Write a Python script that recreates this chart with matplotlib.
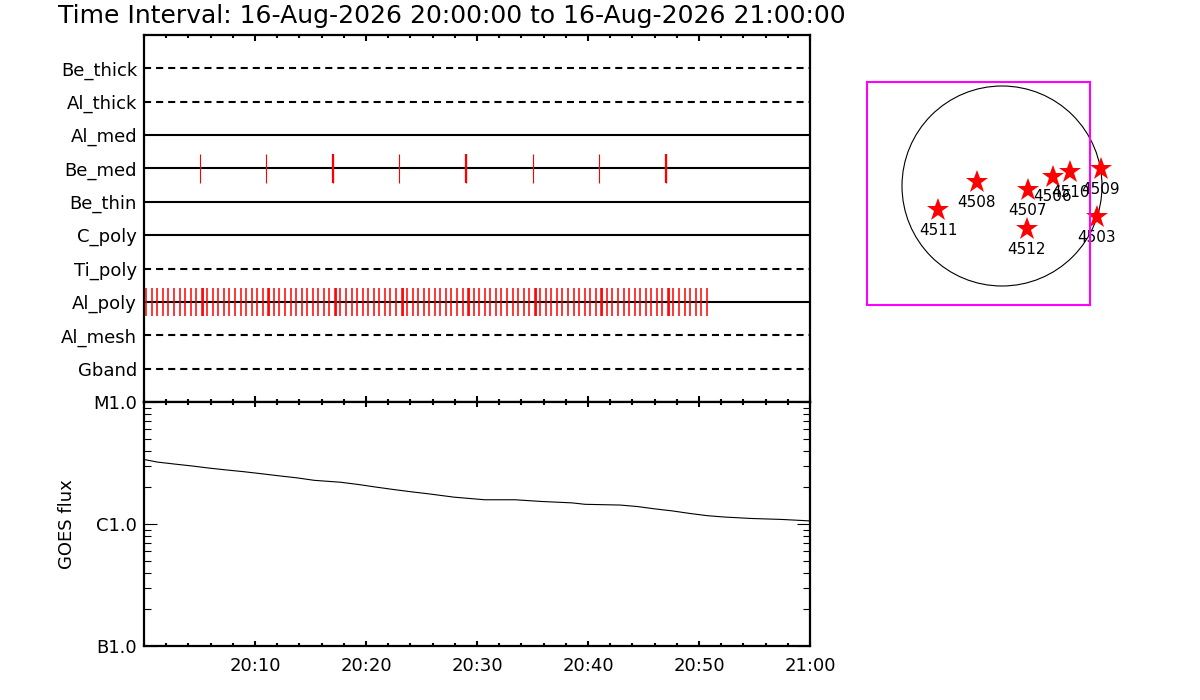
import matplotlib
matplotlib.use('Agg')
import matplotlib.pyplot as plt
from matplotlib.ticker import MultipleLocator, NullFormatter, FixedLocator
from matplotlib.patches import Circle

# filter channels, top to bottom
channels = ['Be_thick', 'Al_thick', 'Al_med', 'Be_med', 'Be_thin',
            'C_poly', 'Ti_poly', 'Al_poly', 'Al_mesh', 'Gband']
dashed = ['Be_thick', 'Al_thick', 'Ti_poly', 'Al_mesh', 'Gband']

# exposure times, minutes after 20:00
be_med_times = [5.0, 11.0, 17.0, 23.0, 29.0, 35.0, 41.0, 47.0]
be_med_long = [17.0, 29.0, 47.0]
al_poly_times = [
    0.2, 0.7, 1.2, 1.7, 2.2, 2.7, 3.2, 3.7, 4.2, 4.7,
    5.2, 5.7, 6.2, 6.7, 7.2, 7.7, 8.2, 8.7, 9.2, 9.7,
    10.2, 10.7, 11.2, 11.7, 12.2, 12.7, 13.2, 13.7, 14.2, 14.7,
    15.2, 15.7, 16.2, 16.7, 17.2, 17.7, 18.2, 18.7, 19.2, 19.7,
    20.2, 20.7, 21.2, 21.7, 22.2, 22.7, 23.2, 23.7, 24.2, 24.7,
    25.2, 25.7, 26.2, 26.7, 27.2, 27.7, 28.2, 28.7, 29.2, 29.7,
    30.2, 30.7, 31.2, 31.7, 32.2, 32.7, 33.2, 33.7, 34.2, 34.7,
    35.2, 35.7, 36.2, 36.7, 37.2, 37.7, 38.2, 38.7, 39.2, 39.7,
    40.2, 40.7, 41.2, 41.7, 42.2, 42.7, 43.2, 43.7, 44.2, 44.7,
    45.2, 45.7, 46.2, 46.7, 47.2, 47.7, 48.2, 48.7, 49.2, 49.7,
    50.2, 50.7]
al_poly_extra = [5.3, 11.3, 17.3, 23.3, 29.3, 35.3, 41.3, 47.3]

# GOES flux (W/m^2)
goes_min = [0.0, 1.18, 2.75, 4.33, 5.90, 7.48, 9.05, 10.62, 12.20, 13.77,
            15.34, 17.70, 19.28, 20.85, 22.43, 24.0, 25.57, 27.93, 30.69,
            33.44, 35.80, 38.56, 39.74, 42.89, 44.46, 46.03, 47.61, 49.18,
            50.75, 52.33, 54.69, 57.44, 60.0]
goes_flux = [3.38e-6, 3.22e-6, 3.10e-6, 2.99e-6, 2.87e-6, 2.77e-6, 2.68e-6,
             2.58e-6, 2.48e-6, 2.39e-6, 2.28e-6, 2.20e-6, 2.11e-6, 2.01e-6,
             1.92e-6, 1.84e-6, 1.77e-6, 1.66e-6, 1.58e-6, 1.58e-6, 1.53e-6,
             1.49e-6, 1.45e-6, 1.43e-6, 1.39e-6, 1.33e-6, 1.28e-6, 1.22e-6,
             1.17e-6, 1.14e-6, 1.11e-6, 1.09e-6, 1.06e-6]
goes_ticks = [1e-7, 1e-6, 1e-5]
goes_labels = ['B1.0', 'C1.0', 'M1.0']

time_ticks = [10, 20, 30, 40, 50, 60]
time_labels = ['20:10', '20:20', '20:30', '20:40', '20:50', '21:00']

# active regions (arcsec from disk centre)
ar_num = ['4511', '4508', '4507', '4506', '4510', '4509', '4503', '4512']
ar_x = [-608, -240, 245, 481, 649, 940, 899, 234]
ar_y = [-228, 38, -38, 89, 130, 158, -297, -408]
r_sun = 950

title = 'Time Interval: 16-Aug-2026 20:00:00 to 16-Aug-2026 21:00:00'

fs = 13
fig = plt.figure(figsize=(12, 7), dpi=100)
ax1 = fig.add_axes([144/1200, 1 - 402/700, 666/1200, 367/700])
ax2 = fig.add_axes([144/1200, 1 - 646/700, 666/1200, 244/700])
ax3 = fig.add_axes([867/1200, 1 - 305/700, 223/1200, 223/700])

fig.text(58/1200, 1 - 16/700, title, fontsize=18, ha='left', va='center')

# --- channel panel
rows = list(range(len(channels), 0, -1))
for name, y in zip(channels, rows):
    ls = (0, (3.4, 2.4)) if name in dashed else '-'
    ax1.axhline(y, color='black', lw=1.5, ls=ls, zorder=1)
row = dict(zip(channels, rows))
ax1.eventplot(be_med_times, lineoffsets=row['Be_med'], linelengths=0.88,
              colors='red', linewidths=0.8, zorder=2)
ax1.eventplot(be_med_long, lineoffsets=row['Be_med'], linelengths=0.88,
              colors='red', linewidths=1.6, zorder=2)
ax1.eventplot(al_poly_times, lineoffsets=row['Al_poly'], linelengths=0.84,
              colors='red', linewidths=1.1, zorder=2)
ax1.eventplot(al_poly_extra, lineoffsets=row['Al_poly'], linelengths=0.84,
              colors='red', linewidths=1.3, zorder=2)
ax1.set_ylim(0, len(channels) + 1)
ax1.set_yticks(rows)
ax1.set_yticklabels(channels, fontsize=fs)
ax1.tick_params(axis='y', length=0, pad=5)

for ax in (ax1, ax2):
    ax.set_xlim(0, 60)
    ax.xaxis.set_major_locator(FixedLocator(time_ticks))
    ax.xaxis.set_minor_locator(MultipleLocator(2))
    for s in ax.spines.values():
        s.set_linewidth(1.6)
ax1.tick_params(axis='x', which='major', direction='in', top=True,
                length=4.5, width=1.5, labelbottom=False)
ax1.tick_params(axis='x', which='minor', direction='in', top=True,
                length=2.2, width=1.5)

# --- GOES panel
ax2.plot(goes_min, goes_flux, color='black', lw=0.8)
ax2.set_yscale('log')
ax2.set_ylim(1e-7, 1e-5)
ax2.set_yticks(goes_ticks)
ax2.set_yticklabels(goes_labels, fontsize=fs)
ax2.yaxis.set_minor_formatter(NullFormatter())
ax2.tick_params(axis='y', which='major', direction='in', right=True,
                length=9.5, width=0.8, pad=5)
ax2.tick_params(axis='y', which='minor', direction='in', right=True,
                length=5, width=0.8)
ax2.set_xticklabels(time_labels, fontsize=fs)
ax2.tick_params(axis='x', which='major', direction='in', top=True,
                length=3.5, width=1.5, pad=8)
ax2.tick_params(axis='x', which='minor', direction='in', top=True,
                length=2, width=1.5)
ax2.text(-0.116, 0.5, 'GOES flux', transform=ax2.transAxes, rotation=90,
         ha='center', va='center', fontsize=fs)

# --- solar disk
ax3.set_xlim(-1282.5, 836)
ax3.set_ylim(-1130.5, 988)
ax3.set_xticks([])
ax3.set_yticks([])
ax3.patch.set_alpha(0)
for s in ax3.spines.values():
    s.set_color('#ff00ff')
    s.set_linewidth(1.5)
    s.set_zorder(5)
ax3.add_patch(Circle((0, 0), r_sun, fill=False, ec='black', lw=0.8,
                     clip_on=False, zorder=1))
ax3.plot(ar_x, ar_y, '*', color='red', ms=17, mew=0, clip_on=False, zorder=2)
for n, x, y in zip(ar_num, ar_x, ar_y):
    ax3.annotate(n, (x, y), xytext=(0, -14.5), textcoords='offset points',
                 ha='center', va='center', fontsize=11, annotation_clip=False,
                 zorder=3)

fig.savefig('out.png', dpi=100)
